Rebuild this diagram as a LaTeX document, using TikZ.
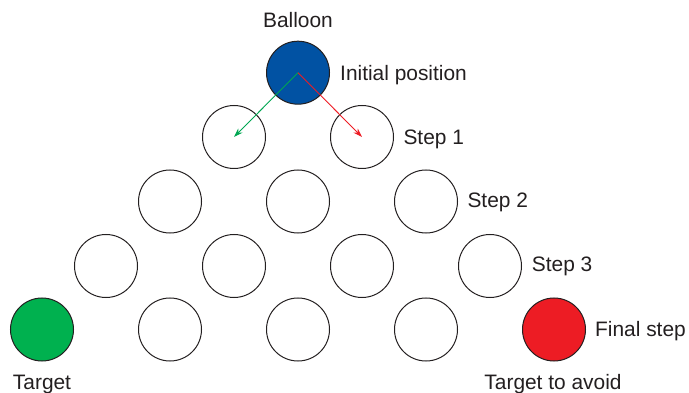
\documentclass[tikz,border=0pt]{standalone}
\usepackage{fontspec}
\setmainfont{Liberation Sans}
\usetikzlibrary{arrows.meta}
\definecolor{ink}{HTML}{231F20}
\definecolor{balblue}{HTML}{0152A3}
\definecolor{tgreen}{HTML}{00B14F}
\definecolor{tred}{HTML}{ED1C24}
\definecolor{agreen}{HTML}{00A651}
\tikzset{
  spot/.style={circle,draw=ink,line width=1pt,minimum size=63pt,inner sep=0pt},
  lbl/.style={text=ink,inner sep=0pt,font=\fontsize{20.9}{24}\selectfont},
  mv/.style={line width=0.9pt,-{Stealth[length=9pt,width=6pt]}}
}
\begin{document}
\begin{tikzpicture}[x=1pt,y=-1pt]
\useasboundingbox (0,0) rectangle (689,393);
% rows
\node[spot,fill=balblue] (b0) at (298,72.7) {};
\node[spot] (r1a) at (234,137) {};
\node[spot] (r1b) at (362,137) {};
\node[spot] (r2a) at (170,201.5) {};
\node[spot] (r2b) at (298,201.5) {};
\node[spot] (r2c) at (426,201.5) {};
\node[spot] (r3a) at (106,266) {};
\node[spot] (r3b) at (234,266) {};
\node[spot] (r3c) at (362,266) {};
\node[spot] (r3d) at (490,266) {};
\node[spot,fill=tgreen] (r4a) at (42,329.5) {};
\node[spot] (r4b) at (170,329.5) {};
\node[spot] (r4c) at (298,329.5) {};
\node[spot] (r4d) at (426,329.5) {};
\node[spot,fill=tred] (r4e) at (554,329.5) {};
% arrows
\draw[mv,agreen] (b0.center) -- (r1a.center);
\draw[mv,tred] (b0.center) -- (r1b.center);
% labels
\node[lbl,anchor=base] (tb) at (298,27.3) {Balloon};
\node[lbl,anchor=base west] (ti) at (340,80.5) {Initial position};
\node[lbl,anchor=base west] (t1) at (403.3,145) {Step 1};
\node[lbl,anchor=base west] (t2) at (467.3,207.7) {Step 2};
\node[lbl,anchor=base west] (t3) at (531.7,271.7) {Step 3};
\node[lbl,anchor=base west] (tf) at (595,336.7) {Final step};
\node[lbl,anchor=base] (tt) at (42,389) {Target};
\node[lbl,anchor=base] (ta) at (553,389) {Target to avoid};
\end{tikzpicture}
\end{document}
